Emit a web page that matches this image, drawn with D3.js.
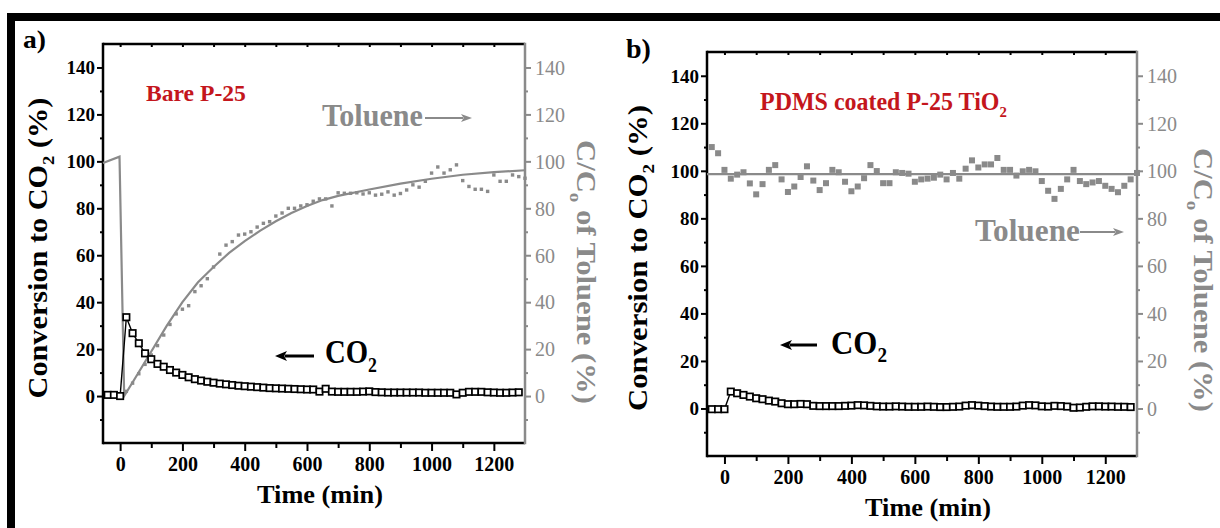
<!DOCTYPE html>
<html>
<head>
<meta charset="utf-8">
<script src="https://cdn.jsdelivr.net/npm/d3@7"></script>
<style>
  body { margin: 0; background: #fff; }
  svg { display: block; }
</style>
</head>
<body>
<svg id="fig" width="1220" height="528"></svg>
<script>
// ---------- data ----------
// Panel a: bare P-25
const timesA_co2 = [-40,-20,0,20,40,60,80,100,120,140,160,180,200,220,240,260,280,300,320,340,360,380,400,420,440,460,480,500,520,540,560,580,600,620,640,660,680,700,720,740,760,780,800,820,840,860,880,900,920,940,960,980,1000,1020,1040,1060,1080,1100,1120,1140,1160,1180,1200,1220,1240,1260,1280];
const co2A = [0.5,0.5,0,33.6,26.8,22.5,18.2,15.7,13.7,12.5,11.1,10,9,8,7.2,6.6,6.1,5.7,5.3,5.0,4.7,4.4,4.2,4.0,3.8,3.6,3.4,3.3,3.2,3.1,3.0,2.9,2.8,2.8,1.9,3.1,1.9,1.8,1.8,1.8,1.8,1.9,2.0,1.7,1.6,1.5,1.5,1.5,1.5,1.5,1.5,1.4,1.4,1.4,1.4,1.4,0.7,1.4,1.8,1.8,1.8,1.6,1.5,1.4,1.4,1.5,1.6];

const timesA_tol = [20,40,60,80,100,120,140,160,180,200,220,240,260,280,300,320,340,360,380,400,420,440,460,480,500,520,540,560,580,600,620,640,660,680,700,720,740,760,780,800,820,840,860,880,900,920,940,960,980,1000,1020,1040,1060,1080,1100,1120,1140,1160,1180,1200,1220,1240,1260,1280,1300];
const tolueneA = [2,5.5,9.5,13.5,17.5,21.5,26,30.5,35,37,38.5,44.5,47,50,55,60.5,64.3,65.8,68.6,69,70,72,73.6,74.3,76.7,78,80,80,81,81.5,83,84,84,81,86.6,86.4,86.4,86.6,86.1,86.6,85.6,86,87,85.6,86.3,87.8,90,89,91.5,95,97.6,95,96.4,98.5,91.8,89.3,88.1,88.1,87.2,94.2,91.5,91.5,94.2,93.5,92.8];

// toluene trace: dark period, light switched on, then the fitted recovery
const timesA_tolLine = [-55,-2,13,50,100,150,200,250,300,350,400,450,500,550,600,650,700,800,900,1000,1100,1200,1300];
const tolueneLineA = [99.3,102,0,8,19,30,40,48.5,55,61,66,70.5,74.5,78,81,83.5,85.3,88,90.5,92.6,94.3,95.4,96.2];

// Panel b: PDMS coated P-25 TiO2
const timesB_co2 = timesA_co2;
const co2B = [-0.3,-0.3,-0.3,7.1,6.4,5.7,5.0,4.3,3.9,3.3,2.9,2.2,1.8,1.8,1.9,1.8,1.1,1.0,1.0,1.0,1.0,1.1,1.2,1.4,1.3,1.1,0.9,0.8,0.8,0.9,0.8,0.7,0.7,0.7,0.8,0.7,0.6,0.6,0.7,0.8,1.2,1.4,1.2,1.0,0.8,0.7,0.7,0.7,0.8,1.2,1.4,1.3,0.9,0.8,1.1,1.0,0.8,0.3,0.4,0.7,0.9,0.9,0.8,0.8,0.7,0.7,0.6];

const timesB_tol = [-40,-20,0,20,40,60,80,100,120,140,160,180,200,220,240,260,280,300,320,340,360,380,400,420,440,460,480,500,520,540,560,580,600,620,640,660,680,700,720,740,760,780,800,820,840,860,880,900,920,940,960,980,1000,1020,1040,1060,1080,1100,1120,1140,1160,1180,1200,1220,1240,1260,1280,1300];
const tolueneB = [110,107.4,100.4,96.7,98.4,99.4,94.7,90.1,94.4,100.4,102.4,96.4,91.1,93.4,97.4,101.9,95.9,91.9,94.8,100.4,99.4,95.4,91.4,93.4,96.9,102.4,99.9,94.8,94.8,99.4,99.1,98.8,95.4,96.4,96.7,97.1,98.4,96.4,99.1,96.7,100.9,104.4,101.4,102.7,102.7,105.4,100.4,100.4,98,99.8,100.4,99.8,95.7,91.6,88.2,92.4,96.4,100.4,95.7,94.4,95.1,95.7,93.7,92.4,91,93.7,96.4,99.1];
const timesB_tolLine = [-55,1300];
const tolueneLineB = [98.6,98.6];

// axis ticks
const xTicks = [0,200,400,600,800,1000,1200];
const xMinor = [100,300,500,700,900,1100];
const yTicks = [0,20,40,60,80,100,120,140];
const yMinor = [-10,10,30,50,70,90,110,130];
const xDomain = [-55,1300];
const yDomain = [-20,150];

// ---------- drawing ----------
const SERIF = "'Liberation Serif','Times New Roman',serif";
const GRAY = "#8a8a8a";
const RED = "#c4161c";
const svg = d3.select("#fig");

// outer frame
svg.append("rect").attr("x",7).attr("y",13).attr("width",1213).attr("height",8).attr("fill","#000");
svg.append("rect").attr("x",7).attr("y",13).attr("width",8).attr("height",515).attr("fill","#000");

function fitText(parent, o) {
  const t = parent.append("text")
    .attr("font-family", SERIF)
    .attr("font-size", o.size)
    .attr("font-weight", o.weight || "bold")
    .attr("fill", o.fill || "#000")
    .attr("text-anchor", o.anchor || "start");
  let inSub = false;
  o.parts.forEach(p => {
    const ts = t.append("tspan").text(p.text);
    if (p.sub) {
      ts.attr("font-size", o.size * 0.62).attr("dy", o.size * 0.26);
      inSub = true;
    } else if (inSub) {
      ts.attr("dy", -o.size * 0.26);
      inSub = false;
    }
  });
  const w = t.node().getComputedTextLength();
  const k = o.len ? o.len / w : 1;
  t.attr("transform", `translate(${o.x},${o.y}) rotate(${o.rotate || 0}) scale(${k},1)`);
  return t;
}

function arrow(parent, x1, x2, y, color, width, head, half) {
  // line from x1 to x2, head at x2
  const dir = Math.sign(x2 - x1);
  parent.append("line").attr("x1", x1).attr("x2", x2 - dir * head * 0.8).attr("y1", y).attr("y2", y)
    .attr("stroke", color).attr("stroke-width", width);
  parent.append("path")
    .attr("d", `M${x2},${y} L${x2 - dir * head},${y - half} L${x2 - dir * head * 0.75},${y} L${x2 - dir * head},${y + half} Z`)
    .attr("fill", color);
}

function panel(cfg) {
  const x = d3.scaleLinear().domain(xDomain).range([cfg.left, cfg.right]);
  const y = d3.scaleLinear().domain(yDomain).range([cfg.bottom, cfg.top]);
  const g = svg.append("g");

  const styleAxis = (sel, color, tw) => {
    sel.select(".domain").remove();
    sel.selectAll(".tick line").attr("stroke", color).attr("stroke-width", tw);
    sel.selectAll("text").attr("font-family", SERIF).attr("fill", color);
  };
  // left axis (black)
  g.append("g").attr("transform", `translate(${cfg.left},0)`)
    .call(d3.axisLeft(y).tickValues(yMinor).tickSize(3).tickFormat(""))
    .call(s => styleAxis(s, "#000", 2));
  g.append("g").attr("transform", `translate(${cfg.left},0)`)
    .call(d3.axisLeft(y).tickValues(yTicks).tickSize(6).tickPadding(2).tickFormat(d3.format("d")))
    .call(s => styleAxis(s, "#000", 2))
    .call(s => s.selectAll("text").attr("font-size", 19).attr("font-weight", "bold").attr("dy", "0.34em"));

  // right axis (gray)
  g.append("g").attr("transform", `translate(${cfg.right},0)`)
    .call(d3.axisRight(y).tickValues(yMinor).tickSize(3).tickFormat(""))
    .call(s => styleAxis(s, GRAY, 2));
  g.append("g").attr("transform", `translate(${cfg.right},0)`)
    .call(d3.axisRight(y).tickValues(yTicks).tickSize(6).tickPadding(4).tickFormat(d3.format("d")))
    .call(s => styleAxis(s, GRAY, 2))
    .call(s => s.selectAll("text").attr("font-size", 20).attr("font-weight", "normal").attr("dy", "0.34em"));

  // bottom axis
  g.append("g").attr("transform", `translate(0,${cfg.bottom})`)
    .call(d3.axisBottom(x).tickValues(xMinor).tickSize(5).tickFormat(""))
    .call(s => styleAxis(s, "#000", 2));
  g.append("g").attr("transform", `translate(0,${cfg.bottom})`)
    .call(d3.axisBottom(x).tickValues(xTicks).tickSize(8).tickPadding(6).tickFormat(d3.format("d")))
    .call(s => styleAxis(s, "#000", 2))
    .call(s => s.selectAll("text").attr("font-size", 20).attr("font-weight", "bold").attr("dy", "0.71em"));

  // top edge: small inward ticks
  g.append("g").attr("transform", `translate(0,${cfg.top})`)
    .call(d3.axisBottom(x).tickValues(xTicks.concat(xMinor)).tickSize(3).tickFormat(""))
    .call(s => styleAxis(s, "#000", 2));

  // frame
  g.append("line").attr("x1", cfg.left).attr("x2", cfg.right).attr("y1", cfg.top).attr("y2", cfg.top).attr("stroke", "#000").attr("stroke-width", 2.5);
  g.append("line").attr("x1", cfg.left).attr("x2", cfg.right).attr("y1", cfg.bottom).attr("y2", cfg.bottom).attr("stroke", "#000").attr("stroke-width", 2.5);
  g.append("line").attr("x1", cfg.left).attr("x2", cfg.left).attr("y1", cfg.top - 1.2).attr("y2", cfg.bottom + 1.2).attr("stroke", "#000").attr("stroke-width", 2.5);
  g.append("line").attr("x1", cfg.right).attr("x2", cfg.right).attr("y1", cfg.top - 1.2).attr("y2", cfg.bottom + 1.2).attr("stroke", GRAY).attr("stroke-width", 2.5);

  const plot = g.append("g");
  const line = d3.line().x(d => x(d[0])).y(d => y(d[1]));

  // toluene
  plot.append("path").datum(d3.zip(cfg.tolLineT, cfg.tolLine))
    .attr("d", line).attr("fill", "none").attr("stroke", GRAY).attr("stroke-width", 2.2);
  plot.selectAll("rect.tol").data(d3.zip(cfg.tolT, cfg.tol)).join("rect").attr("class", "tol")
    .attr("x", d => x(d[0]) - cfg.tolSize / 2).attr("y", d => y(d[1]) - cfg.tolSize / 2)
    .attr("width", cfg.tolSize).attr("height", cfg.tolSize).attr("fill", GRAY);

  // CO2
  const co2 = d3.zip(cfg.co2T, cfg.co2);
  plot.append("path").datum(co2).attr("d", line).attr("fill", "none").attr("stroke", "#000").attr("stroke-width", 1.4);
  plot.selectAll("rect.co2").data(co2).join("rect").attr("class", "co2")
    .attr("x", d => x(d[0]) - 3.2).attr("y", d => y(d[1]) - 3.2)
    .attr("width", 6.4).attr("height", 6.4).attr("fill", "#fff").attr("stroke", "#000").attr("stroke-width", 1.7);

  // axis titles
  fitText(g, { x: cfg.ltX, y: cfg.ltY, rotate: -90, anchor: "middle", size: 27, len: cfg.ltLen,
    parts: [{ text: "Conversion to CO" }, { text: "2", sub: true }, { text: " (%)" }] });
  fitText(g, { x: cfg.rtX, y: cfg.rtY, rotate: 90, anchor: "middle", size: 27, len: 264, fill: GRAY,
    parts: [{ text: "C/C" }, { text: "o", sub: true }, { text: " of Toluene (%)" }] });
  fitText(g, { x: cfg.xtX, y: cfg.xtY, anchor: "middle", size: 26, len: 126, parts: [{ text: "Time (min)" }] });
  return { x, y, g };
}

const pa = panel({
  left: 103, right: 525, top: 44, bottom: 443,
  co2T: timesA_co2, co2: co2A, tolT: timesA_tol, tol: tolueneA, tolSize: 3.4,
  tolLineT: timesA_tolLine, tolLine: tolueneLineA,
  ltX: 47, ltY: 248, ltLen: 301, rtX: 577, rtY: 272, xtX: 320, xtY: 503
});
const pb = panel({
  left: 707, right: 1137, top: 52, bottom: 456,
  co2T: timesB_co2, co2: co2B, tolT: timesB_tol, tol: tolueneB, tolSize: 6,
  tolLineT: timesB_tolLine, tolLine: tolueneLineB,
  ltX: 647, ltY: 258, ltLen: 306, rtX: 1194, rtY: 280, xtX: 928, xtY: 516
});

// panel letters
fitText(svg, { x: 23, y: 48, size: 26, len: 23, parts: [{ text: "a)" }] });
fitText(svg, { x: 626, y: 58, size: 27, len: 25, parts: [{ text: "b)" }] });

// sample labels
fitText(svg, { x: 146, y: 101, size: 24, len: 100, fill: RED, parts: [{ text: "Bare P-25" }] });
fitText(svg, { x: 760, y: 110, size: 25, len: 247, fill: RED,
  parts: [{ text: "PDMS coated P-25 TiO" }, { text: "2", sub: true }] });

// series annotations
fitText(svg, { x: 322, y: 126, size: 31, len: 101, fill: GRAY, parts: [{ text: "Toluene" }] });
arrow(svg, 425, 472, 118, GRAY, 2, 11, 4);
fitText(svg, { x: 975, y: 241, size: 31, len: 105, fill: GRAY, parts: [{ text: "Toluene" }] });
arrow(svg, 1080, 1124, 232, GRAY, 2, 11, 4);

fitText(svg, { x: 325, y: 363, size: 33, len: 52, parts: [{ text: "CO" }, { text: "2", sub: true }] });
arrow(svg, 314, 275, 356, "#000", 3, 12, 5);
fitText(svg, { x: 831, y: 353.5, size: 33, len: 56, parts: [{ text: "CO" }, { text: "2", sub: true }] });
arrow(svg, 817, 780, 345, "#000", 3, 12, 5);
</script>
</body>
</html>
